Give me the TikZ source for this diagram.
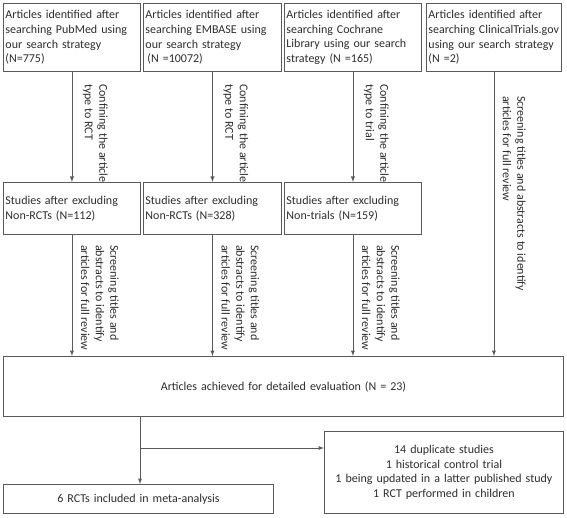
\documentclass[tikz,border=0pt]{standalone}
\usepackage{fontspec}
\setmainfont{Carlito}
\usepackage{tikz}
\usetikzlibrary{arrows,calc,positioning}
\definecolor{framegray}{RGB}{90,90,90}
\definecolor{textgray}{RGB}{45,45,45}
\tikzset{
        block/.style = {draw=framegray, rectangle, line width=0.9pt,
            inner sep=2pt, anchor=north west, align=left,
            text=textgray, font=\fontsize{12}{14.6}\selectfont},
        cblock/.style = {block, align=center},
        note/.style = {rotate=-90, anchor=north west, inner sep=0pt,
            align=left, text=textgray, font=\fontsize{12}{14.6}\selectfont},
        arrow/.style={draw=framegray, line width=0.9pt, -latex},
    }

\begin{document}
\begin{tikzpicture}[x=1pt,y=-1pt]
    \useasboundingbox (0,0) rectangle (567,518);

    % databases
    \node[block, text width=133pt, minimum height=68pt] (pubmed) at (3,3)
        {Articles identified after\\searching PubMed using\\our search strategy\\(N=775)};
    \node[block, text width=134pt, minimum height=68pt] (embase) at (143,3)
        {Articles identified after\\searching EMBASE using\\our search strategy\\\hspace*{2pt}(N =10072)};
    \node[block, text width=133pt, minimum height=68pt] (cochrane) at (284,3)
        {Articles identified after\\searching Cochrane\\Library using our search\\strategy (N =165)};
    \node[block, text width=131pt, minimum height=68pt] (trials) at (426,3)
        {Articles identified after\\searching ClinicalTrials.gov\\using our search strategy\\(N =2)};

    % after excluding
    \node[block, text width=133pt, minimum height=52pt] (excl1) at (3,182)
        {Studies after excluding\\Non-RCTs (N=112)};
    \node[block, text width=134pt, minimum height=52pt] (excl2) at (143,182)
        {Studies after excluding\\Non-RCTs (N=328)};
    \node[block, text width=133pt, minimum height=52pt] (excl3) at (284,182)
        {Studies after excluding\\Non-trials (N=159)};

    \node[cblock, text width=556pt, minimum height=60pt] (evaluation) at (3,356)
        {Articles achieved for detailed evaluation (N = 23)};
    \node[cblock, text width=266pt, minimum height=29pt] (included) at (3,484)
        {6 RCTs included in meta-analysis};
    \node[cblock, text width=235pt, minimum height=82pt] (excluded) at (324,431)
        {14 duplicate studies\\1 historical control trial\\1 being updated in a latter published study\\1 RCT performed in children};

    % edge notes
    \node[note] (confine1) at ($(pubmed.south)+(36,12)$) {Confining the article\\type to RCT};
    \node[note] (confine2) at ($(embase.south)+(36,12)$) {Confining the article\\type to RCT};
    \node[note] (confine3) at ($(cochrane.south)+(36,12)$) {Confining the article\\type to trial};
    \node[note] (screen1) at ($(excl1.south)+(47,10)$) {Screening titles and\\abstracts to identify\\articles for full review};
    \node[note] (screen2) at ($(excl2.south)+(47,10)$) {Screening titles and\\abstracts to identify\\articles for full review};
    \node[note] (screen3) at ($(excl3.south)+(47,10)$) {Screening titles and\\abstracts to identify\\articles for full review};
    \node[note] (screen4) at ($(trials.south)+(32,24)$) {Screening titles and abstracts to identify\\articles for full review};

    \draw[arrow] (pubmed) -- (excl1);
    \draw[arrow] (embase) -- (excl2);
    \draw[arrow] (cochrane) -- (excl3);
    \draw[arrow] (excl1) -- (excl1 |- evaluation.north);
    \draw[arrow] (excl2) -- (excl2 |- evaluation.north);
    \draw[arrow] (excl3) -- (excl3 |- evaluation.north);
    \draw[arrow] (trials) -- (trials |- evaluation.north);

    \coordinate (split) at (140,448);
    \draw[arrow] (split |- evaluation.south) -- (split |- included.north);
    \draw[arrow] (split) -- (excluded.west |- split);
\end{tikzpicture}
\end{document}
